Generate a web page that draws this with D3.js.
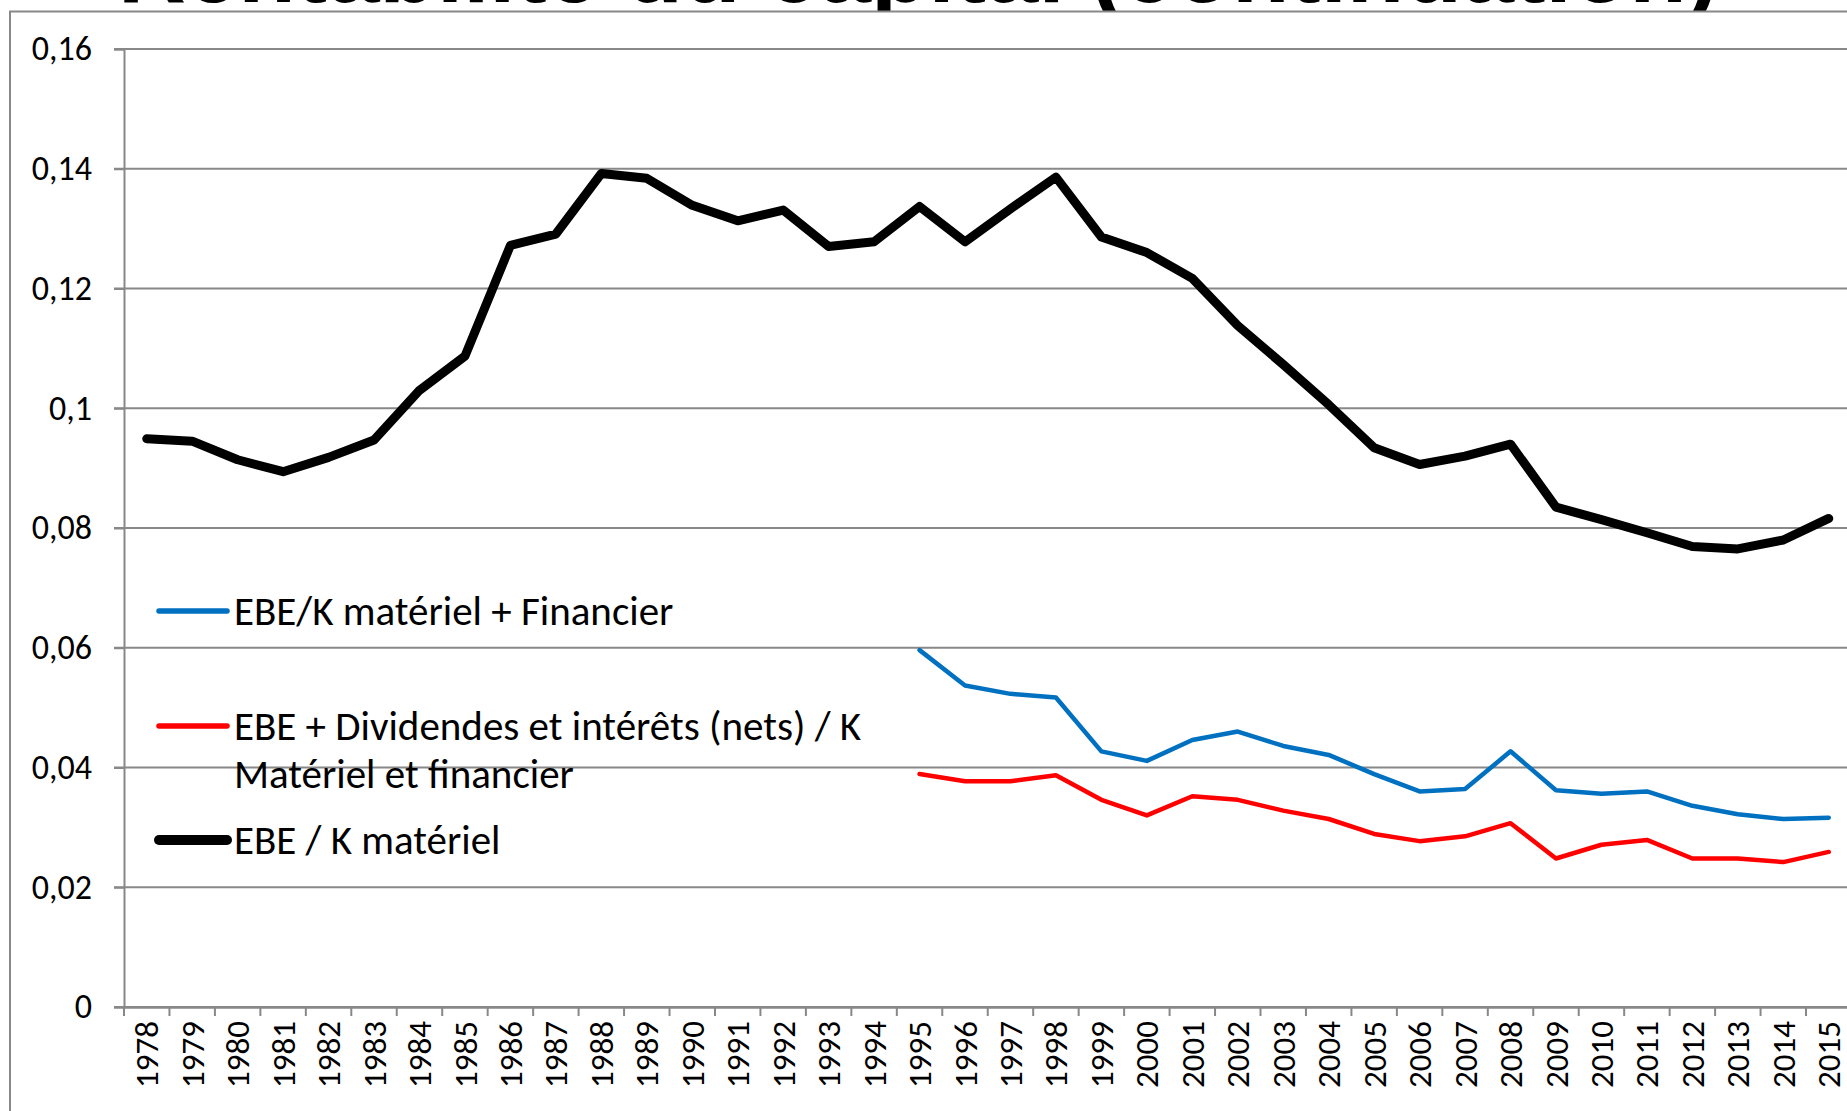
<!DOCTYPE html>
<html>
<head>
<meta charset="utf-8">
<script src="https://cdn.jsdelivr.net/npm/d3@7"></script>
<style>
  body { margin: 0; background: #fff; overflow: hidden; }
  svg { display: block; font-family: Carlito, Lato, sans-serif; }
</style>
</head>
<body>
<div id="graf"></div>
<script>
// Données
const annees = d3.range(1978, 2016).map(String)
const ebeKMateriel = [
  0.0949, 0.0945, 0.0914, 0.0894, 0.0918, 0.0947, 0.1030, 0.1087, 0.1272, 0.1291,
  0.1392, 0.1384, 0.1339, 0.1313, 0.1331, 0.1270, 0.1278, 0.1337, 0.1278, 0.1333,
  0.1386, 0.1286, 0.1260, 0.1217, 0.1138, 0.1073, 0.1006, 0.0934, 0.0906, 0.0920,
  0.0940, 0.0835, 0.0814, 0.0792, 0.0769, 0.0765, 0.0780, 0.0816
]
// à partir de 1995
const anneesFin = d3.range(1995, 2016).map(String)
const ebeKMatFin = [
  0.0596, 0.0537, 0.0523, 0.0517, 0.0427, 0.0411, 0.0446, 0.0460, 0.0436, 0.0421,
  0.0389, 0.0360, 0.0364, 0.0427, 0.0362, 0.0356, 0.0360, 0.0336, 0.0322, 0.0314, 0.0316
]
const ebeDivInt = [
  0.0389, 0.0377, 0.0377, 0.0387, 0.0346, 0.0320, 0.0352, 0.0346, 0.0328, 0.0314,
  0.0289, 0.0277, 0.0285, 0.0307, 0.0248, 0.0271, 0.0279, 0.0248, 0.0248, 0.0242, 0.0259
]
const ticksY = [0, 0.02, 0.04, 0.06, 0.08, 0.1, 0.12, 0.14, 0.16]
const etiquettesY = ["0", "0,02", "0,04", "0,06", "0,08", "0,1", "0,12", "0,14", "0,16"]
const titre = "Rentabilité du capital (continuation)"

const series = [
  { nom: "EBE/K matériel + Financier", lignes: ["EBE/K matériel + Financier"], x: anneesFin, v: ebeKMatFin, color: "#0070C0", w: 4.5 },
  { nom: "EBE + Dividendes", lignes: ["EBE + Dividendes et intérêts (nets) / K", "Matériel et financier"], x: anneesFin, v: ebeDivInt, color: "#FF0000", w: 4.5 },
  { nom: "EBE / K matériel", lignes: ["EBE / K matériel"], x: annees, v: ebeKMateriel, color: "#000000", w: 9 }
]

const ancho = 1847
const alto = 1111
const margen = { left: 124, top: 49, bottom: 104 }
const banda = 45.46

const svg = d3.select("#graf")
  .append("svg")
  .attr("width", ancho)
  .attr("height", alto)

// Titre (coupé par le cadre)
svg.append("text")
  .attr("x", 118)
  .attr("y", 2)
  .attr("font-family", "Liberation Sans, Arial, sans-serif")
  .attr("font-weight", "bold")
  .attr("font-size", 92)
  .attr("textLength", 1600)
  .attr("lengthAdjust", "spacingAndGlyphs")
  .text(titre)

// Cadre du graphique
svg.append("rect")
  .attr("x", 10)
  .attr("y", 11.5)
  .attr("width", ancho + 20)
  .attr("height", alto + 20)
  .attr("fill", "#fff")
  .attr("stroke", "#888888")
  .attr("stroke-width", 2)

// Escaladores
const x = d3.scaleBand()
  .domain(annees)
  .range([margen.left, margen.left + banda * annees.length])

const y = d3.scaleLinear()
  .domain([0, 0.16])
  .range([alto - margen.bottom, margen.top])

// Grille
svg.append("g")
  .selectAll("line")
  .data(ticksY)
  .join("line")
  .attr("x1", margen.left - 10)
  .attr("x2", ancho)
  .attr("y1", d => y(d))
  .attr("y2", d => y(d))
  .attr("stroke", "#888888")
  .attr("stroke-width", 2)

// Axe Y
const ejeY = svg.append("g")
  .attr("transform", `translate(${margen.left},0)`)
  .call(d3.axisLeft(y).tickValues(ticksY).tickSize(10).tickPadding(22)
    .tickFormat((d, i) => etiquettesY[i]))
ejeY.select(".domain").attr("stroke", "#888888").attr("stroke-width", 2)
ejeY.selectAll(".tick line").attr("stroke", "#888888").attr("stroke-width", 2)
ejeY.selectAll("text")
  .attr("font-family", "Carlito, Lato, sans-serif")
  .attr("font-size", 34)
  .attr("fill", "#000")

// Axe X
const ejeX = svg.append("g")
  .attr("transform", `translate(0,${y(0)})`)
  .call(d3.axisBottom(x).tickSize(0).tickPadding(0))
ejeX.select(".domain").attr("stroke", "#888888").attr("stroke-width", 2.5)
ejeX.selectAll("text")
  .attr("font-family", "Carlito, Lato, sans-serif")
  .attr("font-size", 33)
  .attr("fill", "#000")
  .attr("text-anchor", "end")
  .attr("dy", "0.35em")
  .attr("transform", "translate(0,14) rotate(-90)")

// Graduations entre catégories
svg.append("g")
  .selectAll("line")
  .data(annees.concat(["fin"]))
  .join("line")
  .attr("x1", (d, i) => margen.left + i * x.step())
  .attr("x2", (d, i) => margen.left + i * x.step())
  .attr("y1", y(0))
  .attr("y2", y(0) + 9)
  .attr("stroke", "#888888")
  .attr("stroke-width", 2)

// Courbes
const linea = s => d3.line()
  .x((d, i) => x(s.x[i]) + x.bandwidth() / 2)
  .y(d => y(d))

svg.append("g")
  .selectAll("path")
  .data(series)
  .join("path")
  .attr("d", s => linea(s)(s.v))
  .attr("fill", "none")
  .attr("stroke", s => s.color)
  .attr("stroke-width", s => s.w)
  .attr("stroke-linejoin", "round")
  .attr("stroke-linecap", "round")

// Légende
const leyendaY = [611, 726, 840]
const leyenda = svg.append("g")
  .selectAll("g")
  .data(series)
  .join("g")
  .attr("transform", (d, i) => `translate(157,${leyendaY[i]})`)

leyenda.append("line")
  .attr("x1", 2)
  .attr("x2", 70)
  .attr("stroke", d => d.color)
  .attr("stroke-width", d => d.w + 1)
  .attr("stroke-linecap", "round")

leyenda.append("text")
  .attr("x", 77)
  .attr("font-size", 41)
  .selectAll("tspan")
  .data(d => d.lignes)
  .join("tspan")
  .attr("x", 77)
  .attr("y", (d, i) => i * 48)
  .attr("dy", "0.35em")
  .text(d => d)
</script>
</body>
</html>
